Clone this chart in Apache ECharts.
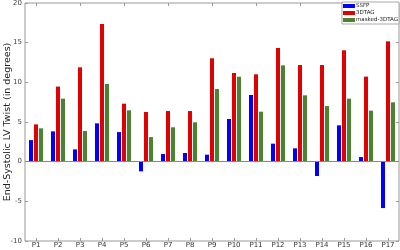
<!DOCTYPE html>
<html><head><meta charset="utf-8">
<script src="https://cdn.jsdelivr.net/npm/echarts@6/dist/echarts.min.js"></script>
<style>html,body{margin:0;padding:0;background:#fff}#c{width:400px;height:250px}</style>
</head><body><div id="c"></div>
<script>
var categories = ['P1','P2','P3','P4','P5','P6','P7','P8','P9','P10','P11','P12','P13','P14','P15','P16','P17'];
var ssfp = [2.72, 3.82, 1.55, 4.83, 3.73, -1.22, 0.96, 1.09, 0.88, 5.38, 8.40, 2.27, 1.68, -1.81, 4.58, 0.58, -5.85];
var tag3d = [4.70, 9.46, 11.89, 17.35, 7.31, 6.26, 6.38, 6.38, 13.03, 11.18, 11.01, 14.33, 12.18, 12.18, 14.04, 10.72, 15.17];
var masked3d = [4.20, 7.94, 3.86, 9.79, 6.47, 3.10, 4.33, 4.96, 9.16, 10.71, 6.30, 12.14, 8.36, 7.01, 7.94, 6.43, 7.48];
var yTicks = [-10, -5, 0, 5, 10, 15, 20];

var chart = echarts.init(document.getElementById('c'));
var tickStyle = {show: true, inside: true, length: 3, alignWithLabel: true, lineStyle: {color: '#999'}};
chart.setOption({
  animation: false,
  grid: {left: 25, right: 1, top: 3, bottom: 9, show: true, borderColor: '#999', borderWidth: 1,
         containLabel: false, outerBoundsMode: 'none'},
  legend: {
    right: 1, top: 2, orient: 'vertical', itemWidth: 12, itemHeight: 4, itemGap: 1,
    padding: [1, 1, 1, 1], borderColor: '#aaa', borderWidth: 1, backgroundColor: '#fff',
    icon: 'rect', itemStyle: {borderWidth: 0},
    textStyle: {fontSize: 5.5, color: '#222', fontFamily: 'DejaVu Sans', padding: [0,0,0,-4]},
    data: ['SSFP', '3DTAG', 'masked-3DTAG']
  },
  xAxis: [
    {type: 'category', data: categories, position: 'bottom',
     axisLine: {show: false, onZero: false}, axisTick: tickStyle,
     axisLabel: {fontSize: 7, color: '#333', margin: 1, fontFamily: 'DejaVu Sans'}},
    {type: 'category', data: categories, position: 'top',
     axisLine: {show: false, onZero: false}, axisTick: tickStyle, axisLabel: {show: false}}
  ],
  yAxis: [
    {type: 'value', min: yTicks[0], max: yTicks[yTicks.length-1], interval: 5, position: 'left',
     name: 'End-Systolic LV Twist (in degrees)', nameLocation: 'middle', nameGap: 12,
     nameMoveOverlap: false,
     nameTextStyle: {fontSize: 9.5, color: '#222', fontFamily: 'DejaVu Sans'},
     axisLine: {show: false}, axisTick: {show: true, inside: true, length: 3, lineStyle: {color: '#999'}},
     splitLine: {show: false},
     axisLabel: {fontSize: 7, color: '#444', margin: 3, fontFamily: 'DejaVu Sans'}},
    {type: 'value', min: yTicks[0], max: yTicks[yTicks.length-1], interval: 5, position: 'right',
     axisLine: {show: false}, axisTick: {show: true, inside: true, length: 3, lineStyle: {color: '#999'}},
     splitLine: {show: false}, axisLabel: {show: false}}
  ],
  series: [
    {name: 'SSFP', type: 'bar', data: ssfp, barWidth: 4, barGap: '25%', itemStyle: {color: '#0000ff'},
     markLine: {silent: true, symbol: 'none', label: {show: false}, lineStyle: {color: '#888', width: 1, type: 'solid'}, data: [{yAxis: 0}]}},
    {name: '3DTAG', type: 'bar', data: tag3d, barWidth: 4, barGap: '25%', itemStyle: {color: '#e00000'}},
    {name: 'masked-3DTAG', type: 'bar', data: masked3d, barWidth: 4, barGap: '25%', itemStyle: {color: '#4d8330'}}
  ]
});
</script></body></html>
